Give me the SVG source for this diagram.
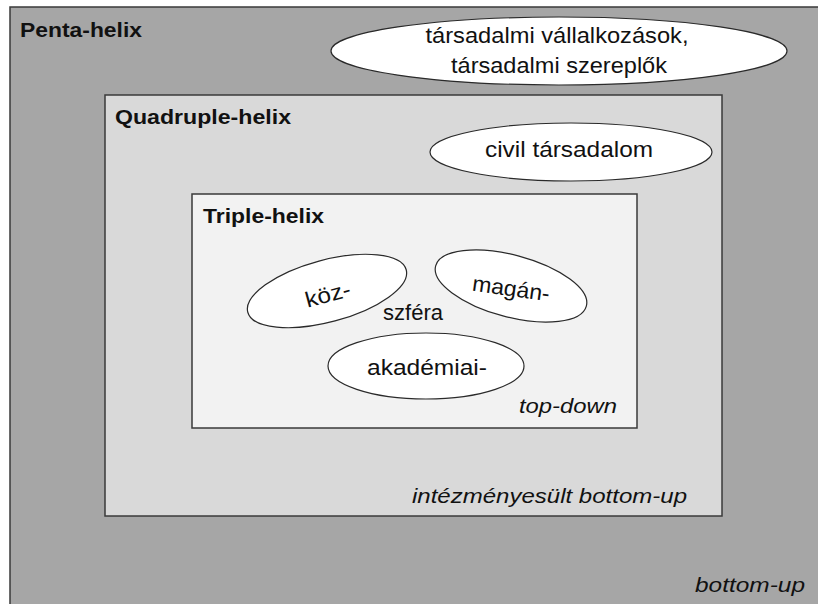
<svg xmlns="http://www.w3.org/2000/svg" width="818" height="604" viewBox="0 0 818 604">
<style>
.box{stroke:#3a3a3a;stroke-width:1.5}
.ell{fill:#ffffff;stroke:#2a2a2a;stroke-width:1.2}
text{font-family:"Liberation Sans",Arial,sans-serif;fill:#111}
.t{font-size:22px}
.b{font-size:20px;font-weight:bold}
.i{font-size:21px;font-style:italic}
</style>
<rect width="818" height="604" fill="#ffffff"/>
<g id="penta">
<rect class="box" x="10" y="7" width="830" height="620" fill="#a6a6a6"/>
<text class="b" x="20" y="37" textLength="122" lengthAdjust="spacingAndGlyphs">Penta-helix</text>
<text class="i" x="805" y="592" text-anchor="end" textLength="110" lengthAdjust="spacingAndGlyphs">bottom-up</text>
</g>
<g id="social">
<ellipse class="ell" cx="559" cy="51" rx="228" ry="34"/>
<text class="t" x="557" y="43" text-anchor="middle" textLength="263" lengthAdjust="spacingAndGlyphs">társadalmi vállalkozások,</text>
<text class="t" x="559" y="73" text-anchor="middle" textLength="216" lengthAdjust="spacingAndGlyphs">társadalmi szereplők</text>
</g>
<g id="quadruple">
<rect class="box" x="105" y="95" width="617" height="421" fill="#d9d9d9"/>
<text class="b" x="115" y="124" textLength="176" lengthAdjust="spacingAndGlyphs">Quadruple-helix</text>
<text class="i" x="687" y="503" text-anchor="end" textLength="275" lengthAdjust="spacingAndGlyphs">intézményesült bottom-up</text>
</g>
<g id="civil">
<ellipse class="ell" cx="571" cy="152" rx="141" ry="29"/>
<text class="t" x="569" y="157" text-anchor="middle" textLength="168" lengthAdjust="spacingAndGlyphs">civil társadalom</text>
</g>
<g id="triple">
<rect class="box" x="192" y="194" width="445" height="234" fill="#f2f2f2"/>
<text class="b" x="203" y="223" textLength="121" lengthAdjust="spacingAndGlyphs">Triple-helix</text>
<text class="i" x="617" y="413" text-anchor="end" textLength="98" lengthAdjust="spacingAndGlyphs">top-down</text>
</g>
<g id="koz">
<ellipse class="ell" cx="327" cy="291" rx="82" ry="31" transform="rotate(-15 327 291)"/>
<text class="t" x="328" y="302" text-anchor="middle" textLength="46" lengthAdjust="spacingAndGlyphs" transform="rotate(-15 328 295)">köz-</text>
</g>
<g id="magan">
<ellipse class="ell" cx="511" cy="286" rx="78" ry="31" transform="rotate(15 511 286)"/>
<text class="t" x="511" y="296" text-anchor="middle" textLength="78" lengthAdjust="spacingAndGlyphs" transform="rotate(8 511 289)">magán-</text>
</g>
<g id="szfera">
<text class="t" x="413" y="320" text-anchor="middle" textLength="60" lengthAdjust="spacingAndGlyphs">szféra</text>
</g>
<g id="akademiai">
<ellipse class="ell" cx="426" cy="366" rx="98" ry="33"/>
<text class="t" x="427" y="375" text-anchor="middle" textLength="120" lengthAdjust="spacingAndGlyphs">akadémiai-</text>
</g>
<g id="connectors"/>
</svg>
